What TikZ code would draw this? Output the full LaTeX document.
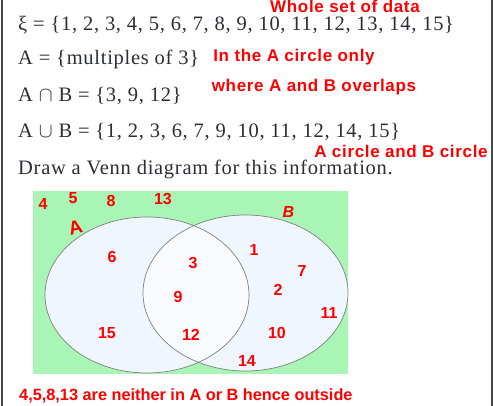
\documentclass[tikz,border=0pt]{standalone}
\usepackage{fontspec}
\setmainfont[LetterSpace=3.5]{Liberation Serif}
\newfontfamily\notefont[LetterSpace=4]{Liberation Sans}
\newfontfamily\numfont{Liberation Sans}
\usetikzlibrary{positioning}
\definecolor{venngreen}{RGB}{168,245,182}
\definecolor{vennfill}{RGB}{239,246,253}
\definecolor{vennmid}{RGB}{249,251,254}
\definecolor{inktext}{RGB}{45,45,55}
\definecolor{framegray}{RGB}{70,70,70}
\tikzstyle{setline} = [anchor=base west, inner sep=0pt, text=inktext, font=\fontsize{20.5}{24}\selectfont]
\tikzstyle{note} = [inner sep=0pt, text=red, font=\notefont\bfseries\fontsize{17}{20}\selectfont]
\tikzstyle{num} = [inner sep=0pt, text=red, font=\numfont\bfseries\fontsize{16}{18}\selectfont]
\tikzstyle{setname} = [inner sep=0pt, text=red, font=\numfont\bfseries\fontsize{19}{22}\selectfont]
\tikzstyle{rim} = [draw=gray, line width=0.7pt]

\begin{document}
\begin{tikzpicture}[x=1pt, y=-1pt]
  \useasboundingbox (0,0) rectangle (493,406);
  % frame edges
  \draw[framegray, line width=2pt] (1.5,0) -- (1.5,406);
  \draw[framegray, line width=2pt] (492,0) -- (492,406);
  % set statements
  \node[setline] (univ) at (18,30.5) {ξ = \{1, 2, 3, 4, 5, 6, 7, 8, 9, 10, 11, 12, 13, 14, 15\}};
  \node[setline] (seta) at (18,65) {A = \{multiples of 3\}};
  \node[setline] (inter) at (18,102) {A $\cap$ B = \{3, 9, 12\}};
  \node[setline] (union) at (18,138) {A $\cup$ B = \{1, 2, 3, 6, 7, 9, 10, 11, 12, 14, 15\}};
  \node[setline] (task) at (18,175) {Draw a Venn diagram for this information.};
  % red remarks
  \node[note] (whole) at (345,6.5) {Whole set of data};
  \node[note] (aonly) at (294,57) {In the A circle only};
  \node[note] (overlap) at (314,87) {where A and B overlaps};
  \node[note] (both) at (401,151) {A circle and B circle};
  % the diagram
  \fill[venngreen] (33,191) rectangle (348,374);
  \fill[vennfill] (147,295) ellipse [x radius=102pt, y radius=78pt];
  \fill[vennfill] (245.5,293) ellipse [x radius=102.5pt, y radius=78pt];
  \begin{scope}
    \clip (147,295) ellipse [x radius=102pt, y radius=78pt];
    \fill[vennmid] (245.5,293) ellipse [x radius=102.5pt, y radius=78pt];
  \end{scope}
  \draw[rim] (147,295) ellipse [x radius=102pt, y radius=78pt];
  \draw[rim] (245.5,293) ellipse [x radius=102.5pt, y radius=78pt];
  \node[setname, rotate=14] (lbla) at (75.5,227) {A};
  \node[setname, font=\numfont\bfseries\itshape\fontsize{16}{20}\selectfont] (lblb) at (288.5,212) {B};
  % outside
  \node[num] (n4) at (43,204) {4};
  \node[num] (n5) at (73,198) {5};
  \node[num] (n8) at (111,201) {8};
  \node[num] (n13) at (163,199) {13};
  % A only
  \node[num] (n6) at (112,257) {6};
  \node[num] (n15) at (107,333) {15};
  % A and B
  \node[num] (n3) at (193,263) {3};
  \node[num] (n9) at (178,297) {9};
  \node[num] (n12) at (191,335) {12};
  % B only
  \node[num] (n1) at (254,250) {1};
  \node[num] (n7) at (302,271) {7};
  \node[num] (n2) at (278,290) {2};
  \node[num] (n11) at (329,313) {11};
  \node[num] (n10) at (277,333) {10};
  \node[num] (n14) at (247,361) {14};
  \node[num, anchor=west, font=\numfont\bfseries\fontsize{16.3}{18}\selectfont] (outside) at (19,396) {4,5,8,13 are neither in A or B hence outside};
\end{tikzpicture}
\end{document}
